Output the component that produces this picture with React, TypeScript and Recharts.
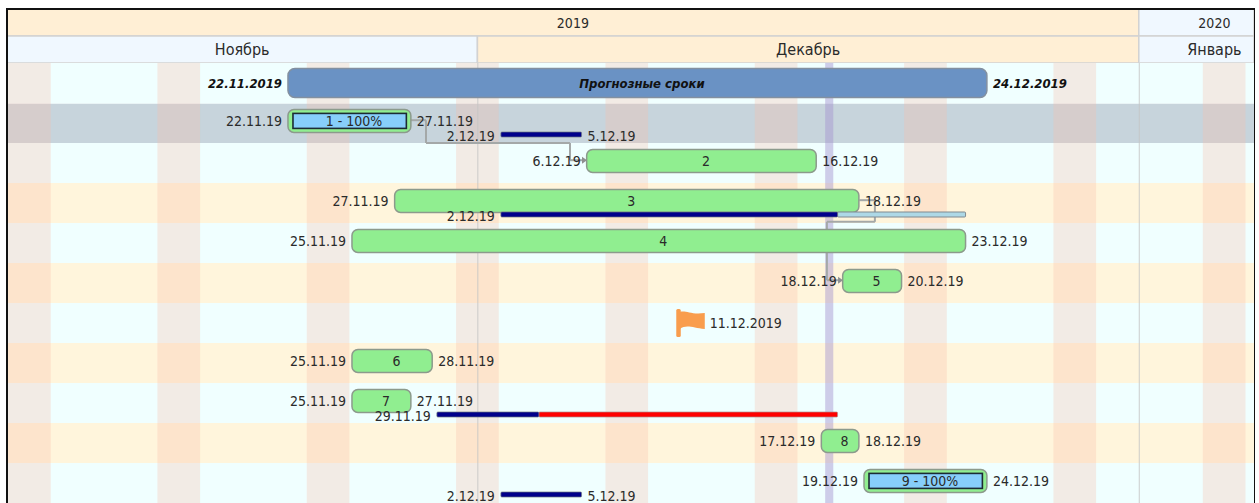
import React from "react";
import {
  ComposedChart,
  XAxis,
  YAxis,
  Bar,
  LabelList,
  ReferenceArea,
  ReferenceLine,
  ReferenceDot,
} from "recharts";

const WIDTH = 1259;
const FONT = "'DejaVu Sans Condensed', 'DejaVu Sans', sans-serif";

const rowNames = ["Прогнозные сроки", "1 - 100%", "2", "3", "4", "5", "Веха", "6", "7", "8", "9 - 100%"];
const barStarts = ["22.11.19", "22.11.19", "6.12.19", "27.11.19", "25.11.19", "18.12.19", null, "25.11.19", "25.11.19", "17.12.19", "19.12.19"];
const barEnds = ["24.12.19", "27.11.19", "16.12.19", "18.12.19", "23.12.19", "20.12.19", null, "28.11.19", "27.11.19", "18.12.19", "24.12.19"];
const barKinds = ["forecast", "done", "task", "task", "task", "task", null, "task", "task", "task", "done"];

const planRows = [1, 3, 8, 10];
const planStarts = ["2.12.19", "2.12.19", "29.11.19", "2.12.19"];
const planBlueEnds = ["5.12.19", "17.12.19", "3.12.19", "5.12.19"];
const planRedEnds = [null, null, "17.12.19", null];
const planRestEnds = [null, "23.12.19", null, null];
const planEndLabels = ["5.12.19", null, null, "5.12.19"];

const milestoneRow = 6;
const milestoneDate = "11.12.19";
const milestoneLabel = "11.12.2019";

const saturdays = ["9.11.19", "16.11.19", "23.11.19", "30.11.19", "7.12.19", "14.12.19", "21.12.19", "28.12.19", "4.01.20"];
const rowFills = ["#F0FFFF", "#C7D4DC", "#F0FFFF", "#FFF5DC", "#F0FFFF", "#FFF5DC", "#F0FFFF", "#FFF5DC", "#F0FFFF", "#FFF5DC", "#F0FFFF"];
const rowEdges = [0, 1.02, 2, 3, 4, 5, 6, 7, 8, 9, 10, 11];
const monthEdges = ["1.12.19", "1.01.20"];
const todayBand = [16.3, 16.68];

const links = [
  [[-3.16, 1.43], [-2.41, 1.43], [-2.41, 2], [4.34, 2], [4.34, 2.43], [4.95, 2.43]],
  [[17.9, 3.43], [18.63, 3.43], [18.63, 3.97], [16.38, 3.97], [16.38, 5.43], [16.95, 5.43]],
];

const years = [{ name: "2019", from: -22.05, to: "1.01.20", dx: 0 }, { name: "2020", from: "1.01.20", to: 36.4, dx: 18 }];
const months = [
  { name: "Ноябрь", from: -22.05, to: "1.12.19", dx: 0, fill: "#F0F8FF" },
  { name: "Декабрь", from: "1.12.19", to: "1.01.20", dx: 0, fill: "#FFEFD5" },
  { name: "Январь", from: "1.01.20", to: 36.4, dx: 18, fill: "#F0F8FF" },
];

const dayOf = (s: string) => {
  const [d, m, y] = s.split(".").map(Number);
  return (Date.UTC(2000 + y, m - 1, d) - Date.UTC(2019, 11, 1)) / 86400000;
};
const pos = (v: string | number) => (typeof v === "number" ? v : dayOf(v));
const START = 0.12;
const END = 0.88;
const X_MIN = -22.05;
const X_MAX = 36.4;

const rows = rowNames.map((row, i) => {
  const p = planRows.indexOf(i);
  const s = barStarts[i];
  const e = barEnds[i];
  const range = s && e ? [dayOf(s) + START, dayOf(e) + END] : null;
  const kind = barKinds[i];
  const fullStart = kind === "forecast" ? s!.replace(/19$/, "2019") : s;
  const fullEnd = kind === "forecast" ? e!.replace(/19$/, "2019") : e;
  const row_: any = {
    row,
    rowPos: i + 0.5,
    forecast: kind === "forecast" ? range : null,
    done: kind === "done" ? range : null,
    task: kind === "task" ? range : null,
    forecastStart: kind === "forecast" ? fullStart : null,
    forecastEnd: kind === "forecast" ? fullEnd : null,
    forecastName: kind === "forecast" ? row : null,
    doneStart: kind === "done" ? s : null,
    doneEnd: kind === "done" ? e : null,
    doneName: kind === "done" ? row : null,
    taskStart: kind === "task" ? s : null,
    taskEnd: kind === "task" ? e : null,
    taskName: kind === "task" ? row : null,
    planBlue: null,
    planRed: null,
    planRest: null,
    planStartText: null,
    planEndText: null,
  };
  if (p >= 0) {
    const a = dayOf(planStarts[p]) + 0.1;
    const b = dayOf(planBlueEnds[p]) + END;
    row_.planBlue = [a, b];
    row_.planStartText = planStarts[p];
    row_.planEndText = planEndLabels[p];
    const red = planRedEnds[p];
    const rest = planRestEnds[p];
    if (red) row_.planRed = [b, dayOf(red) + END];
    if (rest) row_.planRest = [b, dayOf(rest) + END];
  }
  return row_;
});

const text = "#2A2A2A";

const makeShape = (key: string, dy: number, fill: string, stroke: string, radius: number, sw: number) => (props: any) => {
  if (!props.payload || !props.payload[key]) return null;
  const { x, y, width, height } = props;
  return <rect x={x} y={y + dy} width={width} height={height} rx={radius} ry={radius} fill={fill} stroke={stroke} strokeWidth={sw} />;
};

const doneShape = (dy: number) => (props: any) => {
  if (!props.payload || !props.payload.done) return null;
  const { x, y, width, height } = props;
  return (
    <g>
      <rect x={x} y={y + dy} width={width} height={height} rx={6} ry={6} fill="#90EE90" stroke="#8C9A8C" strokeWidth={1.5} />
      <rect x={x + 5} y={y + dy + 4} width={width - 9.5} height={height - 8} fill="#87CEFA" stroke="#1C2B33" strokeWidth={1.6} />
    </g>
  );
};

const boxOf = (p: any) => p.viewBox ?? p;

const sideLabel = (side: "left" | "right" | "center", dy: number, extra: any = {}) => (p: any) => {
  if (p.value === null || p.value === undefined) return null;
  const { x, y, width, height } = boxOf(p);
  const tx = side === "left" ? x - 6 : side === "right" ? x + width + 6 : x + width / 2 + 4.5;
  const anchor = side === "left" ? "end" : side === "right" ? "start" : "middle";
  return (
    <text x={tx} y={y + height / 2 + dy} textAnchor={anchor} dominantBaseline="central" fontFamily={FONT} fontSize={14} fill={text} {...extra}>
      {p.value}
    </text>
  );
};

const arrowShape = (p: any) => <path d={`M${p.cx - 1} ${p.cy - 3.5}L${p.cx + 4} ${p.cy}L${p.cx - 1} ${p.cy + 3.5}Z`} fill="#8E9090" />;
const flagShape = (p: any) => (
  <g fill="#F99D4D">
    <rect x={p.cx - 14.5} y={p.cy - 14} width={4.5} height={28} rx={1.5} />
    <path d={`M${p.cx - 11} ${p.cy - 11}C${p.cx - 5} ${p.cy - 13} ${p.cx} ${p.cy - 8} ${p.cx + 14} ${p.cy - 10}L${p.cx + 14} ${p.cy + 6}C${p.cx + 2} ${p.cy + 5} ${p.cx - 4} ${p.cy + 1} ${p.cx - 11} ${p.cy + 6}Z`} />
  </g>
);

const planProps = { barSize: 5, isAnimationActive: false } as const;
const boldItalic = { fontWeight: 700, fontStyle: "italic", fontSize: 13, fill: "#111" };

const Header = () => (
  <ComposedChart width={WIDTH} height={54} layout="vertical" data={[{ rowPos: 0.5 }, { rowPos: 1.5 }]} margin={{ top: 0, right: 5, bottom: 0, left: 7 }}>
    <XAxis type="number" hide domain={[X_MIN, X_MAX]} allowDataOverflow />
    <YAxis type="number" dataKey="rowPos" hide domain={[0, 2]} allowDataOverflow />
    {years.map((c, i) => (
      <ReferenceArea
        key={c.name}
        x1={pos(c.from)}
        x2={pos(c.to)}
        y1={0}
        y2={1}
        fill={i === 0 ? "#FFEFD5" : "#F0F8FF"}
        fillOpacity={1}
        stroke="#D2D2D2"
        strokeWidth={1.5}
        label={{ value: c.name, position: "center", dx: c.dx, dy: 1, fontFamily: FONT, fontSize: 14, fill: text }}
      />
    ))}
    {months.map((c) => (
      <ReferenceArea
        key={c.name}
        x1={pos(c.from)}
        x2={pos(c.to)}
        y1={1}
        y2={2}
        fill={c.fill}
        fillOpacity={1}
        stroke="#D2D2D2"
        strokeWidth={1.5}
        label={{ value: c.name, position: "center", dx: c.dx, fontFamily: FONT, fontSize: 16, fill: text }}
      />
    ))}
  </ComposedChart>
);

const Body = () => (
  <ComposedChart width={WIDTH} height={440} layout="vertical" data={rows} margin={{ top: 0, right: 5, bottom: 0, left: 7 }}>
    <XAxis type="number" hide domain={[X_MIN, X_MAX]} allowDataOverflow />
    <YAxis yAxisId="pos" type="number" dataKey="rowPos" hide domain={[0, 11]} allowDataOverflow />
    <YAxis yAxisId="main" type="category" dataKey="row" hide />
    <YAxis yAxisId="top" type="category" dataKey="row" hide />
    <YAxis yAxisId="ring" type="category" dataKey="row" hide />
    <YAxis yAxisId="plan" type="category" dataKey="row" hide />
    <YAxis yAxisId="planRed" type="category" dataKey="row" hide />
    <YAxis yAxisId="planRest" type="category" dataKey="row" hide />

    {rowFills.map((fill, i) => (
      <ReferenceArea key={"r" + i} yAxisId="pos" x1={X_MIN} x2={X_MAX} y1={rowEdges[i]} y2={rowEdges[i + 1]} fill={fill} fillOpacity={1} stroke="none" />
    ))}
    {saturdays.map((d) => (
      <ReferenceArea key={d} yAxisId="pos" x1={dayOf(d)} x2={dayOf(d) + 2} y1={0} y2={11} fill="#FABCA8" fillOpacity={0.3} stroke="none" />
    ))}
    <ReferenceArea yAxisId="pos" x1={todayBand[0]} x2={todayBand[1]} y1={0} y2={11} fill="#A392CE" fillOpacity={0.46} stroke="none" />
    {monthEdges.map((d) => (
      <ReferenceArea key={d} yAxisId="pos" x1={dayOf(d)} x2={dayOf(d) + 0.04} y1={0} y2={11} fill="#C4C4C4" fillOpacity={1} stroke="none" />
    ))}

    {links.map((pts, k) =>
      pts.slice(1).map((pt, i) => (
        <ReferenceLine
          key={k + "-" + i}
          yAxisId="pos"
          segment={[{ x: pts[i][0], y: pts[i][1] }, { x: pt[0], y: pt[1] }]}
          stroke="#A4A8A8"
          strokeWidth={2}
          {...({ zIndex: 200 } as any)}
        />
      ))
    )}
    {links.map((pts, k) => (
      <ReferenceDot key={"a" + k} yAxisId="pos" x={pts[pts.length - 1][0]} y={pts[pts.length - 1][1]} shape={arrowShape} {...({ zIndex: 200 } as any)} />
    ))}

    <Bar yAxisId="top" dataKey="forecast" barSize={29} isAnimationActive={false} shape={makeShape("forecast", -0.5, "#6A92C4", "#8390A0", 7, 1.5)}>
      <LabelList dataKey="forecastStart" content={sideLabel("left", -0.5, boldItalic)} />
      <LabelList dataKey="forecastEnd" content={sideLabel("right", -0.5, boldItalic)} />
      <LabelList dataKey="forecastName" content={sideLabel("center", -0.5, boldItalic)} />
    </Bar>
    <Bar yAxisId="main" dataKey="task" barSize={23} isAnimationActive={false} shape={makeShape("task", -2.6, "#90EE90", "#8C9A8C", 6, 1.5)}>
      <LabelList dataKey="taskStart" content={sideLabel("left", -2.6)} />
      <LabelList dataKey="taskEnd" content={sideLabel("right", -2.6)} />
      <LabelList dataKey="taskName" content={sideLabel("center", -2.6)} />
    </Bar>
    <Bar yAxisId="ring" dataKey="done" barSize={23} isAnimationActive={false} shape={doneShape(-2.6)}>
      <LabelList dataKey="doneStart" content={sideLabel("left", -2.6)} />
      <LabelList dataKey="doneEnd" content={sideLabel("right", -2.6)} />
      <LabelList dataKey="doneName" content={sideLabel("center", -2.6)} />
    </Bar>

    <Bar {...planProps} yAxisId="planRed" dataKey="planRed" shape={makeShape("planRed", 11, "#FF0000", "#B08A8A", 1, 0.7)} />
    <Bar {...planProps} yAxisId="planRest" dataKey="planRest" shape={makeShape("planRest", 11, "#ADD8E6", "#808A90", 1, 1)} />
    <Bar {...planProps} yAxisId="plan" dataKey="planBlue" shape={makeShape("planBlue", 11, "#00008B", "#6E7680", 1, 0.7)}>
      <LabelList dataKey="planStartText" content={sideLabel("left", 12)} />
      <LabelList dataKey="planEndText" content={sideLabel("right", 12)} />
    </Bar>

    <ReferenceDot
      yAxisId="pos"
      x={dayOf(milestoneDate)}
      y={milestoneRow + 0.5}
      shape={flagShape}
      label={{ value: milestoneLabel, position: "right", offset: 9, fontFamily: FONT, fontSize: 14, fill: text }}
    />
  </ComposedChart>
);

export default function App() {
  return (
    <div style={{ position: "absolute", left: 0, top: 0, width: WIDTH, height: 503, background: "#fff", overflow: "hidden" }}>
      <div style={{ position: "absolute", left: 0, top: 9 }}>
        <Header />
      </div>
      <div style={{ position: "absolute", left: 0, top: 63 }}>
        <Body />
      </div>
      <div style={{ position: "absolute", left: 6, top: 8, width: 1249, height: 1.5, background: "#111" }} />
      <div style={{ position: "absolute", left: 6, top: 8, width: 1.5, height: 495, background: "#111" }} />
      <div style={{ position: "absolute", left: 1253.5, top: 8, width: 1.5, height: 495, background: "#111" }} />
    </div>
  );
}
